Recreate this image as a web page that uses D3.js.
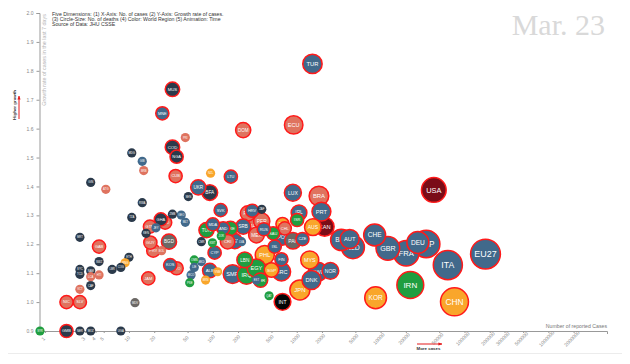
<!DOCTYPE html>
<html>
<head>
<meta charset="utf-8">
<script src="https://cdn.jsdelivr.net/npm/d3@7"></script>
<style>
  body { margin: 0; background: #fff; }
  svg { font-family: "Liberation Sans", Arial, sans-serif; }
</style>
</head>
<body>
<div id="chart"></div>
<script>
// country codes, reported cases, 7-day growth, deaths, world region (Mar. 23)
var codes = [
  "EU27", "ITA", "CHN", "USA", "ESP", "DEU", "FRA", "IRN", "GBR", "CHE",
  "KOR", "AUT", "NLD", "BEL", "NOR", "CAN", "PRT", "BRA", "SWE", "AUS",
  "TUR", "DNK", "MYS", "CZE", "IRL", "JPN", "ISR", "LUX", "ECU", "PAK",
  "INT", "POL", "THA", "FIN", "GRC", "CHL", "ISL", "SGP", "QAT", "SAU",
  "PHL", "RUS", "PER", "ZAF", "BHR", "EGY", "EST", "MEX", "ARG", "HRV",
  "PAN", "IRQ", "LBN", "SRB", "DOM", "LVA", "BGR", "SMR", "LTU", "ARE",
  "CRI", "AND", "JOR", "SVK", "VNM", "CYP", "MDA", "KWT", "NZL", "BFA",
  "ALB", "TUN", "BRN", "CMR", "MKD", "UKR", "OMN", "LIE", "MCO", "PSE",
  "SEN", "PRI", "MLT", "GEO", "NGA", "TTO", "CUB", "COD", "MUS", "ZMB",
  "KOS", "BGD", "HND", "MNE", "BOL", "GHA", "JEY", "PRY", "GUY", "GTM",
  "JAM", "KEN", "BRB", "GIB", "RWA", "MDV", "MDG", "TZA", "ETH", "MNG",
  "UGA", "COG", "LBR", "ATG", "GAB", "SWZ", "HTI", "GIN", "NAM", "CAF",
  "LCA", "MOZ", "MRT", "SYC", "TCD", "VCT", "NER", "SLV", "NIC", "GMB",
  "SYR"
];
var cases = [
  178000, 63300, 76000, 43100, 35000, 27800, 20200, 22600, 12200, 8490,
  8720, 4280, 4680, 3400, 2520, 2150, 1970, 1840, 1790, 1560,
  1540, 1500, 1430, 1170, 1065, 1090, 1010, 900, 920, 903,
  677, 677, 677, 657, 657, 720, 547, 500, 468, 524,
  416, 405, 383, 383, 370, 331, 331, 331, 316, 294,
  262, 252, 240, 230, 230, 220, 183, 172, 164, 162,
  150, 133, 126, 124, 114, 105, 100, 99, 94, 92,
  92, 84, 82, 73, 73, 67, 60, 60, 55, 53,
  51, 47, 47, 42, 37, 37, 36, 33, 33, 33,
  31, 30, 27, 25, 24.5, 24, 21, 19.5, 18, 17.8,
  17, 16, 15, 14.4, 14.4, 11.8, 10.8, 10.8, 10, 9,
  8, 8, 6.3, 5.3, 4.4, 4.4, 4.4, 3.5, 3.5, 3.5,
  3.5, 3.5, 2.6, 2.6, 2.6, 2.6, 2.6, 2.6, 1.8, 1.8,
  0
];
var growth = [
  1.166, 1.128, 1.001, 1.388, 1.201, 1.206, 1.169, 1.059, 1.186, 1.232,
  1.015, 1.218, 1.190, 1.215, 1.108, 1.261, 1.313, 1.367, 1.105, 1.259,
  1.824, 1.076, 1.146, 1.218, 1.309, 1.042, 1.284, 1.378, 1.613, 1.212,
  1.001, 1.226, 1.270, 1.148, 1.105, 1.255, 1.192, 1.111, 1.022, 1.238,
  1.163, 1.252, 1.280, 1.321, 1.076, 1.117, 1.076, 1.232, 1.261, 1.316,
  1.307, 1.094, 1.146, 1.261, 1.595, 1.209, 1.211, 1.097, 1.434, 1.255,
  1.209, 1.255, 1.229, 1.318, 1.105, 1.171, 1.269, 1.205, 1.446, 1.379,
  1.109, 1.249, 1.076, 1.209, 1.140, 1.397, 1.146, 1.120, 1.094, 1.067,
  1.365, 1.569, 1.276, 1.301, 1.503, 1.117, 1.436, 1.536, 1.736, 1.304,
  1.128, 1.209, 1.275, 1.653, 1.178, 1.286, 1.257, 1.178, 1.206, 1.261,
  1.082, 1.238, 1.455, 1.487, 1.344, 0.998, 1.516, 1.293, 1.155, 1.136,
  0.900, 1.120, 1.113, 1.390, 1.192, 1.140, 1.094, 1.414, 1.108, 1.057,
  1.088, 0.900, 1.224, 1.113, 1.096, 1.044, 0.900, 1.000, 1.000, 0.900,
  0.900
];
var deaths = [
  9000, 6077, 3270, 550, 2300, 120, 860, 1800, 330, 120,
  110, 25, 210, 88, 7, 24, 23, 34, 25, 7,
  30, 24, 14, 1, 4, 42, 1, 8, 18, 6,
  7, 8, 1, 1, 17, 1, 1, 2, 0, 1,
  25, 1, 5, 0, 2, 19, 0, 4, 6, 1,
  3, 20, 4, 3, 3, 0, 3, 21, 1, 2,
  2, 1, 0, 1, 0, 1, 1, 0, 0, 4,
  2, 3, 0, 0, 0, 3, 0, 0, 0, 0,
  0, 0, 0, 0, 1, 1, 1, 2, 2, 0,
  1, 3, 1, 1, 0, 1, 0, 1, 1, 1,
  1, 0, 0, 0, 0, 0, 0, 0, 0, 0,
  0, 0, 0, 0, 1, 0, 0, 0, 0, 0,
  0, 0, 0, 0, 0, 0, 0, 1, 1, 1,
  0
];
var regions = [
  "EUR", "EUR", "ASP", "NAM", "EUR", "EUR", "EUR", "MEA", "EUR", "EUR",
  "ASP", "EUR", "EUR", "EUR", "EUR", "NAM", "EUR", "LAM", "EUR", "ASP",
  "EUR", "EUR", "ASP", "EUR", "EUR", "ASP", "MEA", "EUR", "LAM", "SAS",
  "INT", "EUR", "ASP", "EUR", "EUR", "LAM", "EUR", "ASP", "MEA", "MEA",
  "ASP", "EUR", "LAM", "AFR", "MEA", "MEA", "EUR", "LAM", "LAM", "EUR",
  "LAM", "MEA", "MEA", "EUR", "LAM", "EUR", "EUR", "EUR", "EUR", "MEA",
  "LAM", "EUR", "MEA", "EUR", "ASP", "EUR", "EUR", "MEA", "ASP", "AFR",
  "EUR", "MEA", "ASP", "AFR", "EUR", "EUR", "MEA", "EUR", "EUR", "MEA",
  "AFR", "LAM", "EUR", "EUR", "AFR", "LAM", "LAM", "AFR", "AFR", "AFR",
  "EUR", "SAS", "LAM", "EUR", "LAM", "AFR", "EUR", "LAM", "LAM", "LAM",
  "LAM", "AFR", "LAM", "EUR", "AFR", "SAS", "AFR", "AFR", "AFR", "ASP",
  "AFR", "AFR", "AFR", "LAM", "LAM", "AFR", "LAM", "AFR", "AFR", "AFR",
  "LAM", "AFR", "AFR", "AFR", "AFR", "LAM", "AFR", "LAM", "LAM", "AFR",
  "MEA"
];
var regionColors = {
  AFR: "#2b3a4b", EUR: "#41698b", LAM: "#df735f", ASP: "#f9a62b",
  MEA: "#1f9e40", SAS: "#6b6865", NAM: "#7a0c17", INT: "#050505"
};
var xTicks = [1, 3, 4, 5, 10, 20, 50, 100, 200, 500, 1000, 2000, 5000, 10000,
  20000, 50000, 100000, 200000, 300000, 500000, 1000000, 2000000];
var yTicks = [0.9, 1.0, 1.1, 1.2, 1.3, 1.4, 1.5, 1.6, 1.7, 1.8, 1.9, 2.0];
var dateLabel = "Mar. 23";
var titleLines = [
  "Five Dimensions: (1) X-Axis: No. of cases (2) Y-Axis: Growth rate of cases.",
  "(3) Circle-Size: No. of deaths (4) Color: World Region (5) Animation: Time",
  "Source of Data: JHU CSSE"
];

var _width = 630, _height = 364,
    _minCases = 0.87;

var svg = d3.select("#chart").append("svg")
    .attr("width", _width)
    .attr("height", _height);

var x = d3.scaleLog().domain([_minCases, 5000000]).range([40, 607]);
var y = d3.scaleLinear().domain([0.9, 2.0]).range([331, 13]);
var r = d3.scaleLog().domain([1, 10000]).range([6.6, 15]).clamp(true);

// bottom separator
svg.append("line")
    .attr("x1", 8).attr("x2", 622)
    .attr("y1", 353.5).attr("y2", 353.5)
    .attr("stroke", "#ececec");

// big date label
svg.append("text")
    .attr("x", 605).attr("y", 35)
    .attr("text-anchor", "end")
    .style("font-family", "'Liberation Serif', 'Times New Roman', serif")
    .style("font-size", "30px")
    .attr("fill", "#d9d9d9")
    .text(dateLabel);

// axes
var xAxis = svg.append("g")
    .attr("transform", "translate(0,331)")
    .call(d3.axisBottom(x).tickValues(xTicks).tickFormat(d3.format("d")).tickSize(2).tickSizeOuter(3));
xAxis.selectAll("text")
    .attr("y", 0).attr("dy", 0)
    .attr("text-anchor", "middle")
    .attr("transform", "translate(-1,9) rotate(-45)");

var yAxis = svg.append("g")
    .attr("transform", "translate(39.5,0)")
    .call(d3.axisLeft(y).tickValues(yTicks).tickFormat(d3.format(".1f")).tickSize(3).tickSizeOuter(3));

[xAxis, yAxis].forEach(function(a) {
    a.select(".domain").attr("stroke", "#999");
    a.selectAll(".tick line").attr("stroke", "#999");
    a.selectAll("text").attr("fill", "#888").style("font-size", "5px");
});

svg.append("text")
    .attr("x", 607).attr("y", 328)
    .attr("text-anchor", "end")
    .attr("fill", "#777")
    .style("font-size", "5.2px")
    .text("Number of reported Cases");

svg.append("text")
    .attr("transform", "translate(46,14) rotate(-90)")
    .attr("text-anchor", "end")
    .attr("fill", "#b5b5b5")
    .style("font-size", "5.4px")
    .text("Growth rate of cases in the last 7 days");

// title block
svg.append("g").selectAll("text")
    .data(titleLines)
    .enter().append("text")
    .attr("x", 52)
    .attr("y", function(d, i) { return 16 + i * 4.8; })
    .attr("fill", "#333")
    .style("font-size", "5.2px")
    .text(function(d) { return d; });

// direction hints
var defs = svg.append("defs");
defs.append("marker")
    .attr("id", "head")
    .attr("viewBox", "0 0 10 10")
    .attr("refX", 9).attr("refY", 5)
    .attr("markerWidth", 4).attr("markerHeight", 4)
    .attr("orient", "auto")
    .append("path").attr("d", "M0,1L10,5L0,9Z").attr("fill", "#e41a1c");

svg.append("line")
    .attr("x1", 19).attr("y1", 119).attr("x2", 19).attr("y2", 96)
    .attr("stroke", "#e41a1c").attr("stroke-width", 1)
    .attr("marker-end", "url(#head)");
svg.append("text")
    .attr("transform", "translate(16,105) rotate(-90)")
    .attr("text-anchor", "middle")
    .attr("fill", "#333")
    .style("font-size", "4.4px").style("font-weight", "bold")
    .text("Higher growth");

svg.append("line")
    .attr("x1", 417).attr("y1", 344).attr("x2", 442).attr("y2", 344)
    .attr("stroke", "#e41a1c").attr("stroke-width", 1)
    .attr("marker-end", "url(#head)");
svg.append("text")
    .attr("x", 428.5).attr("y", 350)
    .attr("text-anchor", "middle")
    .attr("fill", "#333")
    .style("font-size", "4.4px").style("font-weight", "bold")
    .text("More cases");

// bubbles
var nodes = codes.map(function(c, i) {
    return {
        name: c,
        cases: cases[i],
        growth: growth[i],
        deaths: deaths[i],
        region: regions[i],
        radius: deaths[i] > 0 ? r(deaths[i]) : 4.6
    };
});
nodes.sort(function(a, b) { return b.radius - a.radius; });

var node = svg.append("g").selectAll("g")
    .data(nodes)
    .enter().append("g")
    .attr("transform", function(d) {
        return "translate(" + x(Math.max(d.cases, _minCases)) + "," + y(d.growth) + ")";
    });

node.append("circle")
    .attr("r", function(d) { return d.radius; })
    .attr("fill", function(d) { return regionColors[d.region]; })
    .attr("stroke", function(d) { return d.deaths > 0 ? "#ff1a1a" : "none"; })
    .attr("stroke-width", 1.5);

node.append("text")
    .attr("text-anchor", "middle")
    .attr("dy", "0.35em")
    .attr("fill", "#fff")
    .style("font-size", function(d) { return (d.radius * 0.6) + "px"; })
    .text(function(d) { return d.name; });
</script>
</body>
</html>
